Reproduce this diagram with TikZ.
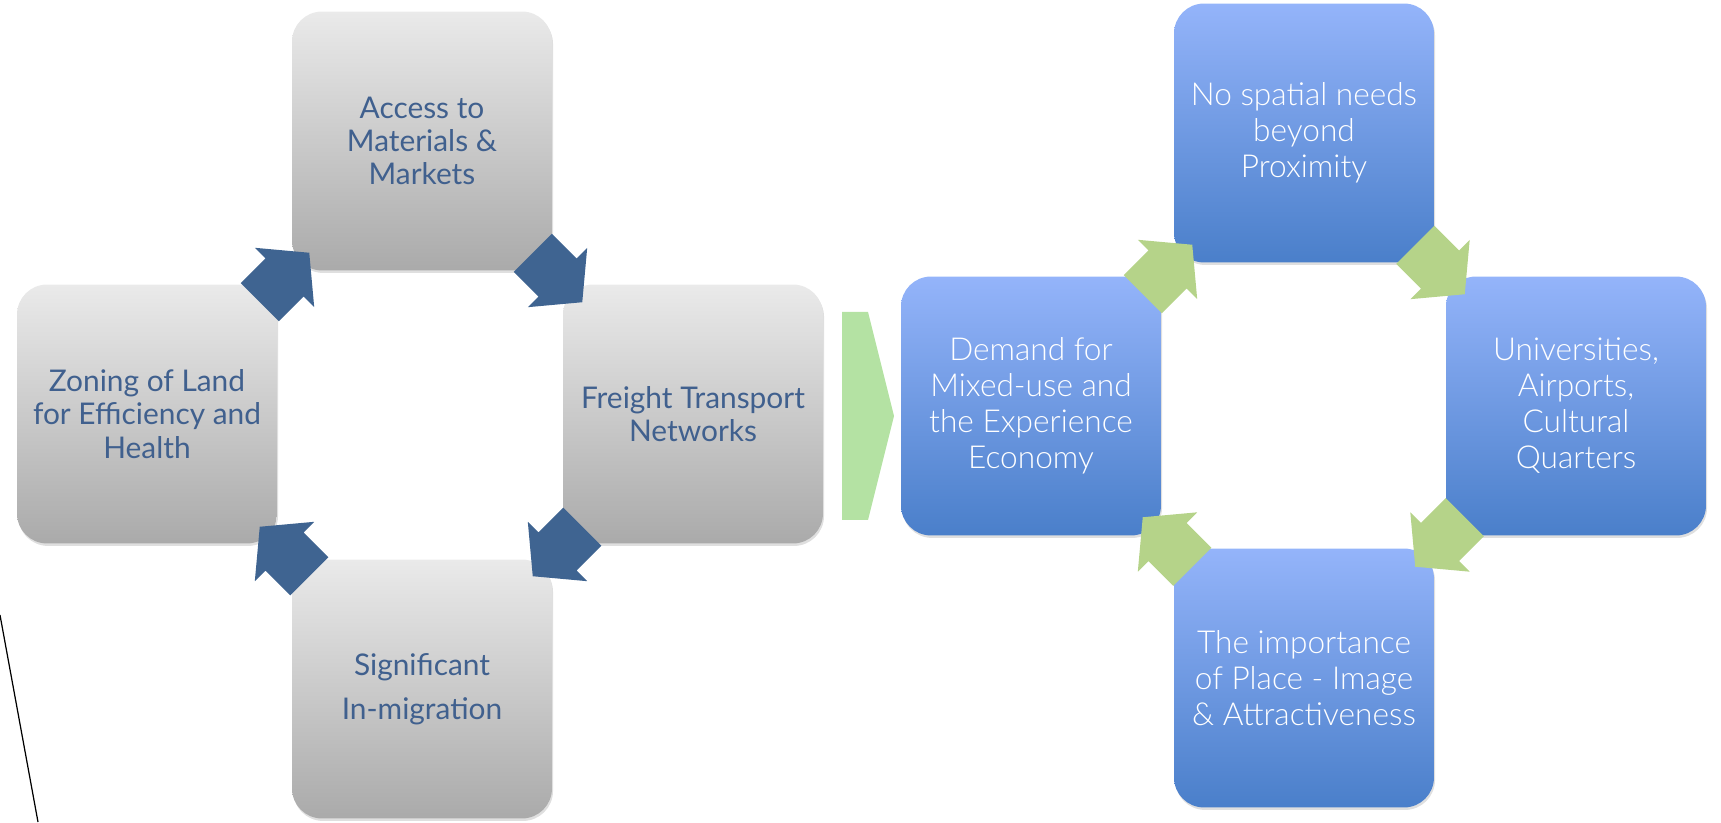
\documentclass[tikz,border=0pt]{standalone}
\usepackage{fontspec}
\setmainfont{Lato}
\IfFontExistsTF{Lato Light}{\newfontfamily\lightfont{Lato Light}}{\newfontfamily\lightfont{Lato}}
\usepackage{tikz}
\usetikzlibrary{calc,shadows}

\definecolor{grtop}{RGB}{234,234,234}
\definecolor{grbot}{RGB}{170,170,170}
\definecolor{bltop}{RGB}{148,180,250}
\definecolor{blbot}{RGB}{74,127,202}
\definecolor{txtblue}{RGB}{64,96,142}
\definecolor{arrblue}{RGB}{63,100,145}
\definecolor{arrgreen}{RGB}{181,211,137}
\definecolor{chevgreen}{RGB}{180,226,163}

\begin{document}
\begin{tikzpicture}[x=0.02cm,y=0.02cm,
  graybox/.style={rectangle,rounded corners=0.6cm,minimum width=5.2cm,minimum height=5.18cm,
    top color=grtop,bottom color=grbot,text=txtblue,align=center,
    font=\fontsize{17}{19}\selectfont,
    drop shadow={shadow xshift=0.6pt,shadow yshift=-1.4pt,opacity=0.25}},
  bluebox/.style={graybox,top color=bltop,bottom color=blbot,text=white,
    font=\lightfont\fontsize{18}{20.5}\selectfont},
  cycarrow/.pic={\fill (35,0) -- (0,42) -- (0,27) -- (-35,27) -- (-35,-27) -- (0,-27) -- (0,-42) -- cycle;}]
\useasboundingbox (0,0) rectangle (1721,822);

\node[graybox] (acc) at (422,681) {Access to\\Materials \&\\Markets};
\node[graybox] (zon) at (147,408) {Zoning of Land\\for Efficiency and\\Health};
\node[graybox] (frt) at (693,408) {Freight Transport\\Networks};
\node[graybox] (sig) at (422,133) {Significant\\[6pt]In-migration};

\node[bluebox] (nsp) at (1304,689) {No spatial needs\\beyond\\Proximity};
\node[bluebox] (dem) at (1031,416) {Demand for\\Mixed-use and\\the Experience\\Economy};
\node[bluebox] (uni) at (1576,416) {Universities,\\Airports,\\Cultural\\Quarters};
\node[bluebox] (imp) at (1304,144) {The importance\\of Place - Image\\\& Attractiveness};

% strzałki cyklu, grot przejścia i linia z lewej
\pic[arrblue,rotate=45] at ($(zon.north east)!.5!(acc.south west)$) {cycarrow};
\pic[arrblue,rotate=-45] at ($(acc.south east)!.5!(frt.north west)$) {cycarrow};
\pic[arrblue,rotate=-135] at ($(frt.south west)!.5!(sig.north east)$) {cycarrow};
\pic[arrblue,rotate=135] at ($(sig.north west)!.5!(zon.south east)$) {cycarrow};

\pic[arrgreen,rotate=45] at ($(dem.north east)!.5!(nsp.south west)$) {cycarrow};
\pic[arrgreen,rotate=-45] at ($(nsp.south east)!.5!(uni.north west)$) {cycarrow};
\pic[arrgreen,rotate=-135] at ($(uni.south west)!.5!(imp.north east)$) {cycarrow};
\pic[arrgreen,rotate=135] at ($(imp.north west)!.5!(dem.south east)$) {cycarrow};

\fill[chevgreen] (842,510) -- (868,510) -- (894,406) -- (868,302) -- (842,302) -- cycle;
\draw[line width=0.7pt] (0,207) -- (38,0);

\end{tikzpicture}
\end{document}
